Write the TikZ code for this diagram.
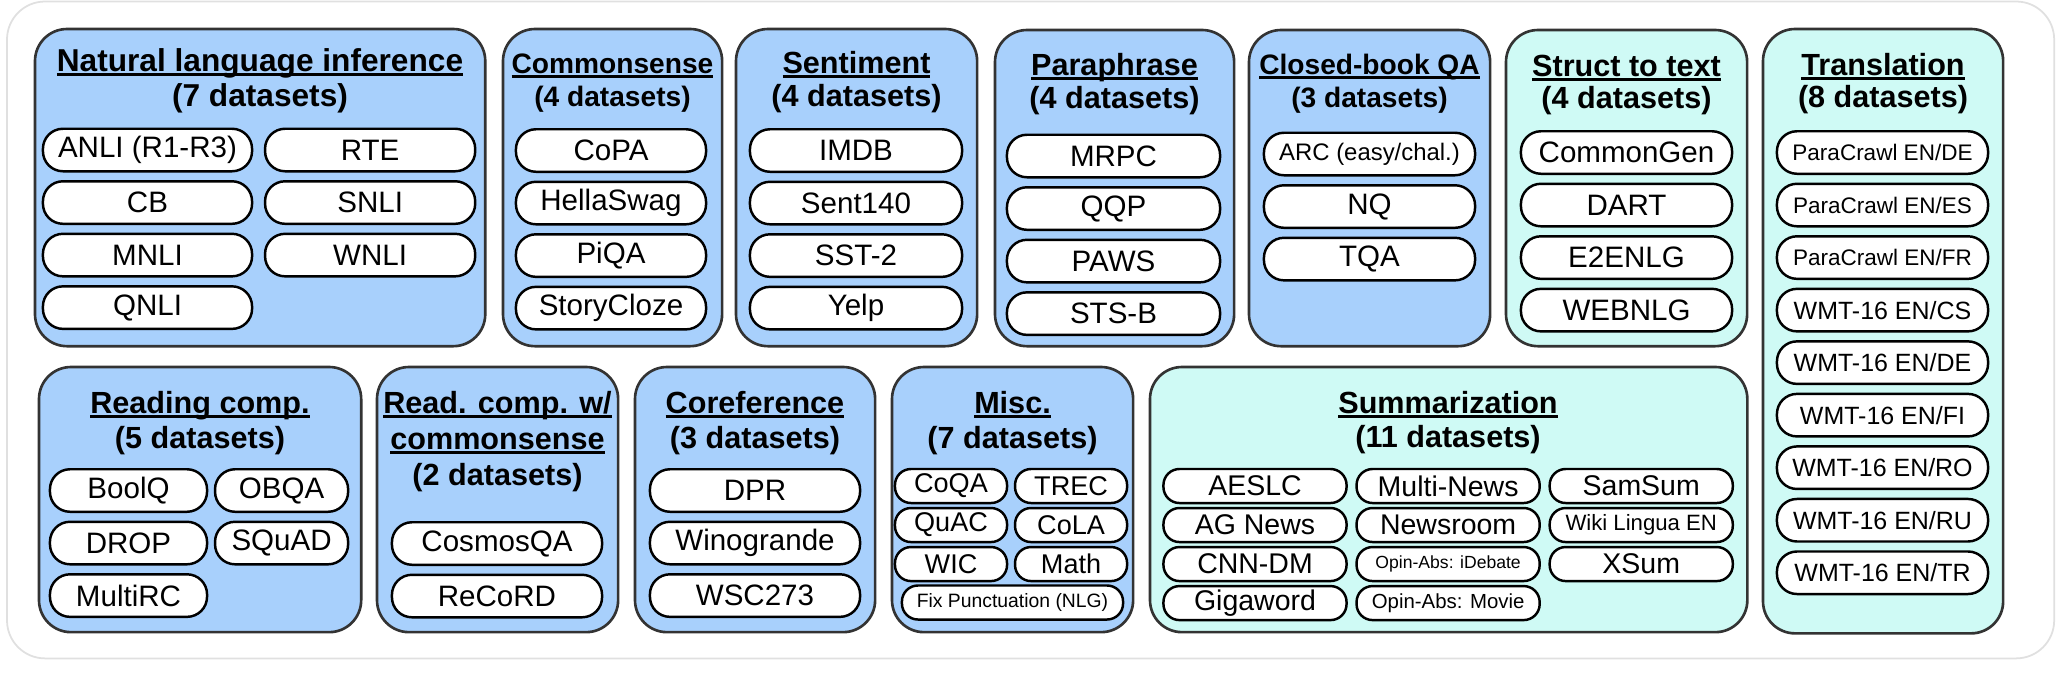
\documentclass[tikz,border=0pt]{standalone}
\usepackage{fontspec}
\setmainfont{Liberation Sans}
\usetikzlibrary{positioning}
\definecolor{taskblue}{RGB}{168,208,252}
\definecolor{taskcyan}{RGB}{207,250,245}
\newcommand{\headul}[1]{\setbox0=\hbox{#1}\rlap{\rule[-1.35pt]{\wd0}{0.65pt}}\box0}

\begin{document}
\begin{tikzpicture}[
			x=0.01cm, y=-0.01cm,
			outerframe/.style={
				draw=black!12,
				line width=0.5pt,
				fill=white,
				rounded corners=0.38cm,
				anchor=north west,
				inner sep=0pt,
				outer sep=0pt
			},
			taskgroup/.style={
				draw=black!80,
				line width=0.75pt,
				rounded corners=0.32cm,
				anchor=north west,
				inner sep=0pt,
				outer sep=0pt
			},
			nlu/.style={taskgroup, fill=taskblue},
			nlg/.style={taskgroup, fill=taskcyan},
			heading/.style={
				anchor=base,
				inner sep=0pt,
				font=\fontsize{8.7}{10}\selectfont\bfseries
			},
			pill/.style={
				draw=black,
				line width=0.7pt,
				fill=white,
				rounded corners=0.2cm,
				minimum height=0.425cm,
				inner sep=0pt,
				outer sep=0pt,
				font=\fontsize{8.4}{10}\selectfont
			},
			smallpill/.style={
				pill,
				rounded corners=0.16cm,
				minimum height=0.34cm
			}
			]
			\useasboundingbox (0,0) rectangle (2060,672);
			
			% Frame
			\node[outerframe, minimum width=20.46cm, minimum height=6.565cm] (frame) at (7,1.5) {};
			
			% Groups, top row
			\node[nlu, minimum width=4.50cm, minimum height=3.17cm] (nli) at (35,29) {};
			\node[nlu, minimum width=2.19cm, minimum height=3.17cm] (commonsense) at (503,29) {};
			\node[nlu, minimum width=2.41cm, minimum height=3.17cm] (sentiment) at (736,29) {};
			\node[nlu, minimum width=2.39cm, minimum height=3.16cm] (paraphrase) at (995,30) {};
			\node[nlu, minimum width=2.41cm, minimum height=3.16cm] (cbqa) at (1249,30) {};
			\node[nlg, minimum width=2.41cm, minimum height=3.16cm] (struct) at (1506,30) {};
			\node[nlg, minimum width=2.40cm, minimum height=6.04cm] (translation) at (1763,29) {};
			
			% Groups, bottom row
			\node[nlu, minimum width=3.22cm, minimum height=2.65cm] (readcomp) at (39,367) {};
			\node[nlu, minimum width=2.41cm, minimum height=2.65cm] (readcs) at (377,367) {};
			\node[nlu, minimum width=2.40cm, minimum height=2.65cm] (coref) at (635,367) {};
			\node[nlu, minimum width=2.41cm, minimum height=2.65cm] (misc) at (892,367) {};
			\node[nlg, minimum width=5.97cm, minimum height=2.65cm] (summ) at (1150,367) {};
			
			% Headings
			\node[heading, font=\fontsize{9}{10}\selectfont\bfseries] (nlititle) at (260,71) {\headul{Natural language inference}};
			\node[heading, font=\fontsize{9}{10}\selectfont\bfseries] (nlicount) at (260,106) {(7 datasets)};
			\node[heading, font=\fontsize{8}{10}\selectfont\bfseries] (cstitle) at (612.5,73) {\headul{Commonsense}};
			\node[heading, font=\fontsize{8}{10}\selectfont\bfseries] (cscount) at (612.5,106) {(4 datasets)};
			\node[heading] (senttitle) at (856.5,73) {\headul{Sentiment}};
			\node[heading] (sentcount) at (856.5,106) {(4 datasets)};
			\node[heading] (paratitle) at (1114.5,75) {\headul{Paraphrase}};
			\node[heading] (paracount) at (1114.5,108) {(4 datasets)};
			\node[heading, font=\fontsize{8}{10}\selectfont\bfseries] (cbqatitle) at (1369.5,74) {\headul{Closed-book QA}};
			\node[heading, font=\fontsize{8}{10}\selectfont\bfseries] (cbqacount) at (1369.5,107) {(3 datasets)};
			\node[heading] (structtitle) at (1626.5,76) {\headul{Struct to text}};
			\node[heading] (structcount) at (1626.5,108) {(4 datasets)};
			\node[heading] (transtitle) at (1883,75) {\headul{Translation}};
			\node[heading] (transcount) at (1883,107) {(8 datasets)};
			\node[heading] (rctitle) at (200,413) {\headul{Reading comp.}};
			\node[heading] (rccount) at (200,448) {(5 datasets)};
			\node[heading] (rcstitle) at (497.5,413) {\headul{Read. comp. w/}};
			\node[heading] (rcstitleb) at (497.5,449) {\headul{commonsense}};
			\node[heading] (rcscount) at (497.5,485) {(2 datasets)};
			\node[heading] (coreftitle) at (755,413) {\headul{Coreference}};
			\node[heading] (corefcount) at (755,448) {(3 datasets)};
			\node[heading] (misctitle) at (1012.5,413) {\headul{Misc.}};
			\node[heading] (misccount) at (1012.5,448) {(7 datasets)};
			\node[heading] (summtitle) at (1448,413) {\headul{Summarization}};
			\node[heading] (summcount) at (1448,447) {(11 datasets)};
			
			% Natural language inference
			\node[pill, minimum width=2.09cm] (anli) at (147.5,150) {ANLI (R1-R3)};
			\node[pill, minimum width=2.10cm, right=0.13cm of anli] (rte) {RTE};
			\node[pill, minimum width=2.09cm, below=0.1cm of anli] (cb) {CB};
			\node[pill, minimum width=2.10cm, below=0.1cm of rte] (snli) {SNLI};
			\node[pill, minimum width=2.09cm, below=0.1cm of cb] (mnli) {MNLI};
			\node[pill, minimum width=2.10cm, below=0.1cm of snli] (wnli) {WNLI};
			\node[pill, minimum width=2.09cm, below=0.1cm of mnli] (qnli) {QNLI};
			
			% Commonsense
			\node[pill, minimum width=1.90cm] (copa) at (611,150.5) {CoPA};
			\node[pill, minimum width=1.90cm, below=0.1cm of copa] (hellaswag) {HellaSwag};
			\node[pill, minimum width=1.90cm, below=0.1cm of hellaswag] (piqa) {PiQA};
			\node[pill, minimum width=1.90cm, below=0.1cm of piqa] (storycloze) {StoryCloze};
			
			% Sentiment
			\node[pill, minimum width=2.12cm] (imdb) at (856,150.5) {IMDB};
			\node[pill, minimum width=2.12cm, below=0.1cm of imdb] (sent140) {Sent140};
			\node[pill, minimum width=2.12cm, below=0.1cm of sent140] (sst) {SST-2};
			\node[pill, minimum width=2.12cm, below=0.1cm of sst] (yelp) {Yelp};
			
			% Paraphrase
			\node[pill, minimum width=2.13cm] (mrpc) at (1113.5,156) {MRPC};
			\node[pill, minimum width=2.13cm, below=0.1cm of mrpc] (qqp) {QQP};
			\node[pill, minimum width=2.13cm, below=0.1cm of qqp] (paws) {PAWS};
			\node[pill, minimum width=2.13cm, below=0.1cm of paws] (stsb) {STS-B};
			
			% Closed-book QA
			\node[pill, minimum width=2.11cm, font=\fontsize{6.8}{8}\selectfont] (arc) at (1369.5,154) {ARC (easy/chal.)};
			\node[pill, minimum width=2.11cm, below=0.1cm of arc] (nq) {NQ};
			\node[pill, minimum width=2.11cm, below=0.1cm of nq] (tqa) {TQA};
			
			% Struct to text
			\node[pill, minimum width=2.11cm] (commongen) at (1626.5,152.5) {CommonGen};
			\node[pill, minimum width=2.11cm, below=0.1cm of commongen] (dart) {DART};
			\node[pill, minimum width=2.11cm, below=0.1cm of dart] (e2enlg) {E2ENLG};
			\node[pill, minimum width=2.11cm, below=0.1cm of e2enlg] (webnlg) {WEBNLG};
			
			% Translation
			\node[pill, minimum width=2.11cm, font=\fontsize{6.4}{8}\selectfont] (pcde) at (1882.5,152.5) {ParaCrawl EN/DE};
			\node[pill, minimum width=2.11cm, font=\fontsize{6.4}{8}\selectfont, below=0.1cm of pcde] (pces) {ParaCrawl EN/ES};
			\node[pill, minimum width=2.11cm, font=\fontsize{6.4}{8}\selectfont, below=0.1cm of pces] (pcfr) {ParaCrawl EN/FR};
			\node[pill, minimum width=2.11cm, font=\fontsize{7.1}{8}\selectfont, below=0.1cm of pcfr] (wmtcs) {WMT-16 EN/CS};
			\node[pill, minimum width=2.11cm, font=\fontsize{7.1}{8}\selectfont, below=0.1cm of wmtcs] (wmtde) {WMT-16 EN/DE};
			\node[pill, minimum width=2.11cm, font=\fontsize{7.1}{8}\selectfont, below=0.1cm of wmtde] (wmtfi) {WMT-16 EN/FI};
			\node[pill, minimum width=2.11cm, font=\fontsize{7.1}{8}\selectfont, below=0.1cm of wmtfi] (wmtro) {WMT-16 EN/RO};
			\node[pill, minimum width=2.11cm, font=\fontsize{7.1}{8}\selectfont, below=0.1cm of wmtro] (wmtru) {WMT-16 EN/RU};
			\node[pill, minimum width=2.11cm, font=\fontsize{7.1}{8}\selectfont, below=0.1cm of wmtru] (wmttr) {WMT-16 EN/TR};
			
			% Reading comp.
			\node[pill, minimum width=1.57cm] (boolq) at (128.5,490.5) {BoolQ};
			\node[pill, minimum width=1.33cm, right=0.08cm of boolq] (obqa) {OBQA};
			\node[pill, minimum width=1.57cm, below=0.1cm of boolq] (drop) {DROP};
			\node[pill, minimum width=1.33cm, below=0.1cm of obqa] (squad) {SQuAD};
			\node[pill, minimum width=1.57cm, below=0.1cm of drop] (multirc) {MultiRC};
			
			% Read. comp. w/ commonsense
			\node[pill, minimum width=2.10cm] (cosmosqa) at (497,543.5) {CosmosQA};
			\node[pill, minimum width=2.10cm, below=0.1cm of cosmosqa] (record) {ReCoRD};
			
			% Coreference
			\node[pill, minimum width=2.10cm] (dpr) at (755,490.5) {DPR};
			\node[pill, minimum width=2.10cm, below=0.1cm of dpr] (winogrande) {Winogrande};
			\node[pill, minimum width=2.10cm, below=0.1cm of winogrande] (wsc) {WSC273};
			
			% Misc.
			\node[smallpill, minimum width=1.12cm, font=\fontsize{7.7}{9}\selectfont] (coqa) at (951,486) {CoQA};
			\node[smallpill, minimum width=1.12cm, font=\fontsize{7.7}{9}\selectfont, right=0.08cm of coqa] (trec) {TREC};
			\node[smallpill, minimum width=1.12cm, font=\fontsize{7.7}{9}\selectfont, below=0.05cm of coqa] (quac) {QuAC};
			\node[smallpill, minimum width=1.12cm, font=\fontsize{7.7}{9}\selectfont, below=0.05cm of trec] (cola) {CoLA};
			\node[smallpill, minimum width=1.12cm, font=\fontsize{7.7}{9}\selectfont, below=0.05cm of quac] (wic) {WIC};
			\node[smallpill, minimum width=1.12cm, font=\fontsize{7.7}{9}\selectfont, below=0.05cm of cola] (math) {Math};
			\node[smallpill, minimum width=2.21cm, font=\fontsize{5.5}{7}\selectfont] (fixpunct) at (1012.5,602.5) {Fix Punctuation (NLG)};
			
			% Summarization
			\node[smallpill, minimum width=1.83cm, font=\fontsize{8.1}{9}\selectfont] (aeslc) at (1255,486) {AESLC};
			\node[smallpill, minimum width=1.83cm, font=\fontsize{8.1}{9}\selectfont, right=0.1cm of aeslc] (multinews) {Multi-News};
			\node[smallpill, minimum width=1.83cm, font=\fontsize{8.1}{9}\selectfont, right=0.1cm of multinews] (samsum) {SamSum};
			\node[smallpill, minimum width=1.83cm, font=\fontsize{8.1}{9}\selectfont, below=0.05cm of aeslc] (agnews) {AG News};
			\node[smallpill, minimum width=1.83cm, font=\fontsize{8.1}{9}\selectfont, below=0.05cm of multinews] (newsroom) {Newsroom};
			\node[smallpill, minimum width=1.83cm, font=\fontsize{6.3}{8}\selectfont, below=0.05cm of samsum] (wikilingua) {Wiki Lingua EN};
			\node[smallpill, minimum width=1.83cm, font=\fontsize{8.1}{9}\selectfont, below=0.05cm of agnews] (cnndm) {CNN-DM};
			\node[smallpill, minimum width=1.83cm, font=\fontsize{5}{6}\selectfont, below=0.05cm of newsroom] (idebate) {Opin-Abs: iDebate};
			\node[smallpill, minimum width=1.83cm, font=\fontsize{8.1}{9}\selectfont, below=0.05cm of wikilingua] (xsum) {XSum};
			\node[smallpill, minimum width=1.83cm, font=\fontsize{8.1}{9}\selectfont, below=0.05cm of cnndm] (gigaword) {Gigaword};
			\node[smallpill, minimum width=1.83cm, font=\fontsize{5.8}{7}\selectfont, below=0.05cm of idebate] (movie) {Opin-Abs: Movie};
			
		\end{tikzpicture}
\end{document}
